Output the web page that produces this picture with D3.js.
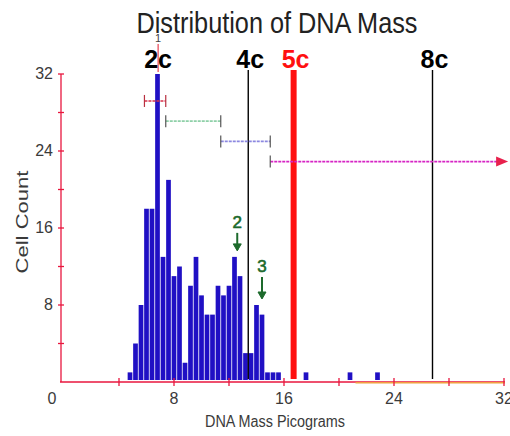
<!DOCTYPE html>
<html>
<head>
<meta charset="utf-8">
<script src="https://cdn.jsdelivr.net/npm/d3@7"></script>
<style>
  html, body { margin: 0; padding: 0; background: #fff; }
  svg { display: block; }
  text { font-family: "Liberation Sans Narrow", "Liberation Sans", Arial, sans-serif; }
</style>
</head>
<body>
<svg id="chart" width="510" height="436"></svg>
<script>
// Histogram bins of DNA mass (picograms), lower edges, 0.4 pg wide
const binLower = [4.6, 5.0, 5.4, 5.8, 6.2, 6.6, 7.0, 7.4, 7.8, 8.2, 8.6, 9.0, 9.4, 9.8,
                  10.2, 10.6, 11.0, 11.4, 11.8, 12.2, 12.6, 13.0, 13.4, 13.8, 14.2, 14.6, 15.0, 15.4,
                  17.4, 20.6, 22.6];
const cellCount = [1, 4, 8, 18, 18, 32, 13, 21, 11, 12, 2, 10, 13, 9,
                   7, 7, 10, 9, 10, 13, 11, 3, 3, 8, 7, 1, 1, 1,
                   1, 1, 1];
const binWidth = 0.4;

// Ploidy reference marks
const ploidyLabel = ["2c", "4c", "5c", "8c"];
const ploidyMass = [6.7, 13.4, 16.7, 26.8];
const ploidyColor = ["#000", "#000", "#ff1010", "#000"];
const ploidyLine = [false, true, true, true];

// Gate ranges (start, end, level in count units)
const gateStart = [5.85, 7.4, 11.4, 15.0];
const gateEnd = [7.4, 11.4, 15.0, 32.3];
const gateLevel = [29.2, 27.1, 25.0, 22.9];
const gateColor = ["#d8304a", "#8fd0a8", "#8c88e0", "#d624c4"];

// Handwritten peak callouts
const calloutText = ["2", "3"];
const calloutMass = [12.4, 14.2];
const calloutCount = [13, 8];

// Axis ticks
const xTicks = [4, 8, 12, 16, 20, 24, 28, 32];
const xTickLabels = [0, 8, 16, 24, 32];
const yTicks = [4, 8, 12, 16, 20, 24, 28, 32];
const yTickLabels = [8, 16, 24, 32];

const svg = d3.select("#chart");
const x = d3.scaleLinear().domain([0, 32]).range([64, 504]);
const y = d3.scaleLinear().domain([0, 32]).range([382, 74]);
const axisX = 61;          // position of the vertical axis line
const axisRed = "#e8163e";

// Title
svg.append("text")
  .attr("x", 277).attr("y", 33)
  .attr("text-anchor", "middle")
  .attr("font-size", 29)
  .attr("fill", "#222")
  .attr("textLength", 281).attr("lengthAdjust", "spacingAndGlyphs")
  .text("Distribution of DNA Mass");

// Histogram bars
const bars = svg.append("g");
bars.selectAll("rect")
  .data(binLower.map((m, i) => ({ m, c: cellCount[i] })))
  .join("rect")
  .attr("x", d => x(d.m) + 0.4)
  .attr("width", d => x(d.m + binWidth) - x(d.m) - 0.8)
  .attr("y", d => y(d.c))
  .attr("height", d => y(0) - 2 - y(d.c))
  .attr("fill", "#2010c4");

// Ploidy lines
ploidyMass.forEach((m, i) => {
  if (!ploidyLine[i]) return;
  const thick = ploidyColor[i] !== "#000";
  svg.append("line")
    .attr("x1", x(m)).attr("x2", x(m))
    .attr("y1", 70).attr("y2", y(0) - 3)
    .attr("stroke", ploidyColor[i])
    .attr("stroke-width", thick ? 6 : 1.4);
});

// Cursor mark above the 2c peak
svg.append("line")
  .attr("x1", x(ploidyMass[0]) + 2).attr("x2", x(ploidyMass[0]) + 2)
  .attr("y1", 44).attr("y2", 72)
  .attr("stroke", "#e84050").attr("stroke-width", 1.2);
svg.append("text")
  .attr("x", x(ploidyMass[0]) + 2).attr("y", 42)
  .attr("text-anchor", "middle")
  .attr("font-size", 11).attr("fill", "#444")
  .text("1");

// Ploidy labels
svg.selectAll("text.ploidy")
  .data(ploidyLabel)
  .join("text")
  .attr("class", "ploidy")
  .attr("x", (d, i) => x(ploidyMass[i]) + 2)
  .attr("y", 68)
  .attr("text-anchor", "middle")
  .attr("font-family", "Liberation Sans, Arial, sans-serif")
  .attr("font-weight", "bold")
  .attr("font-size", 25)
  .attr("fill", (d, i) => ploidyColor[i])
  .text(d => d);

// Gates
const gates = svg.append("g");
gateStart.forEach((s, i) => {
  const gy = y(gateLevel[i]);
  const last = i === gateStart.length - 1;
  gates.append("line")
    .attr("x1", x(s)).attr("x2", x(gateEnd[i]) - (last ? 8 : 0))
    .attr("y1", gy).attr("y2", gy)
    .attr("stroke", gateColor[i])
    .attr("stroke-width", 1.6)
    .attr("stroke-dasharray", "3 1");
  const caps = last ? [s] : [s, gateEnd[i]];
  caps.forEach(c => {
    gates.append("line")
      .attr("x1", x(c)).attr("x2", x(c))
      .attr("y1", gy - 6).attr("y2", gy + 6)
      .attr("stroke", i === 0 ? "#b83040" : "#555")
      .attr("stroke-width", 1.2);
  });
  if (last) {
    const tip = x(gateEnd[i]);
    gates.append("path")
      .attr("d", `M${tip},${gy} L${tip - 12},${gy - 5} L${tip - 12},${gy + 5} Z`)
      .attr("fill", "#e8204c");
  }
});

// Axes
const axes = svg.append("g");
axes.append("line")
  .attr("x1", axisX).attr("x2", axisX)
  .attr("y1", y(32)).attr("y2", y(0))
  .attr("stroke", axisRed).attr("stroke-width", 1.3);
axes.append("line")
  .attr("x1", axisX - 1).attr("x2", x(32) + 1)
  .attr("y1", y(0)).attr("y2", y(0))
  .attr("stroke", axisRed).attr("stroke-width", 1.3);
axes.append("line")
  .attr("x1", x(21.2)).attr("x2", x(32) + 1)
  .attr("y1", y(0) + 0.8).attr("y2", y(0) + 0.8)
  .attr("stroke", "#f0a040").attr("stroke-width", 1.6);

axes.selectAll("line.xt")
  .data(xTicks).join("line").attr("class", "xt")
  .attr("x1", d => x(d)).attr("x2", d => x(d))
  .attr("y1", y(0) - 4).attr("y2", y(0) + 4)
  .attr("stroke", axisRed).attr("stroke-width", 1.3);
axes.selectAll("line.yt")
  .data(yTicks).join("line").attr("class", "yt")
  .attr("x1", axisX - 3).attr("x2", axisX + 3)
  .attr("y1", d => y(d)).attr("y2", d => y(d))
  .attr("stroke", axisRed).attr("stroke-width", 1.3);

axes.selectAll("text.xl")
  .data(xTickLabels).join("text").attr("class", "xl")
  .attr("x", d => x(d) - (d === 0 ? 12 : 0))
  .attr("y", 404)
  .attr("text-anchor", "middle")
  .attr("font-size", 16).attr("fill", "#3a3a3a")
  .text(d => d);
axes.selectAll("text.yl")
  .data(yTickLabels).join("text").attr("class", "yl")
  .attr("x", 53)
  .attr("y", d => y(d) + 5)
  .attr("text-anchor", "end")
  .attr("font-size", 16).attr("fill", "#3a3a3a")
  .text(d => d);

// Axis titles
svg.append("text")
  .attr("x", 275).attr("y", 427)
  .attr("text-anchor", "middle")
  .attr("font-size", 16).attr("fill", "#3a3a3a")
  .attr("textLength", 140).attr("lengthAdjust", "spacingAndGlyphs")
  .text("DNA Mass Picograms");
svg.append("text")
  .attr("transform", "translate(28,222) rotate(-90)")
  .attr("text-anchor", "middle")
  .attr("font-size", 16).attr("fill", "#3a3a3a")
  .attr("textLength", 103).attr("lengthAdjust", "spacingAndGlyphs")
  .text("Cell Count");

// Peak callouts
const callouts = svg.append("g").attr("fill", "#1d6a2c").attr("stroke", "#1d6a2c");
calloutText.forEach((t, i) => {
  const cx = x(calloutMass[i] + binWidth / 2);
  const top = y(calloutCount[i]);
  const lift = i === 0 ? 0 : 4;
  callouts.append("text")
    .attr("x", cx).attr("y", top - 29 - lift)
    .attr("text-anchor", "middle")
    .attr("font-family", "DejaVu Sans, sans-serif")
    .attr("font-size", 17).attr("stroke-width", 0.6)
    .text(t);
  callouts.append("line")
    .attr("x1", cx).attr("x2", cx)
    .attr("y1", top - 24 - lift).attr("y2", top - 7)
    .attr("stroke-width", 2);
  callouts.append("path")
    .attr("d", `M${cx - 4},${top - 13} L${cx + 4},${top - 13} L${cx},${top - 6} Z`)
    .attr("stroke-width", 1);
});
</script>
</body>
</html>
